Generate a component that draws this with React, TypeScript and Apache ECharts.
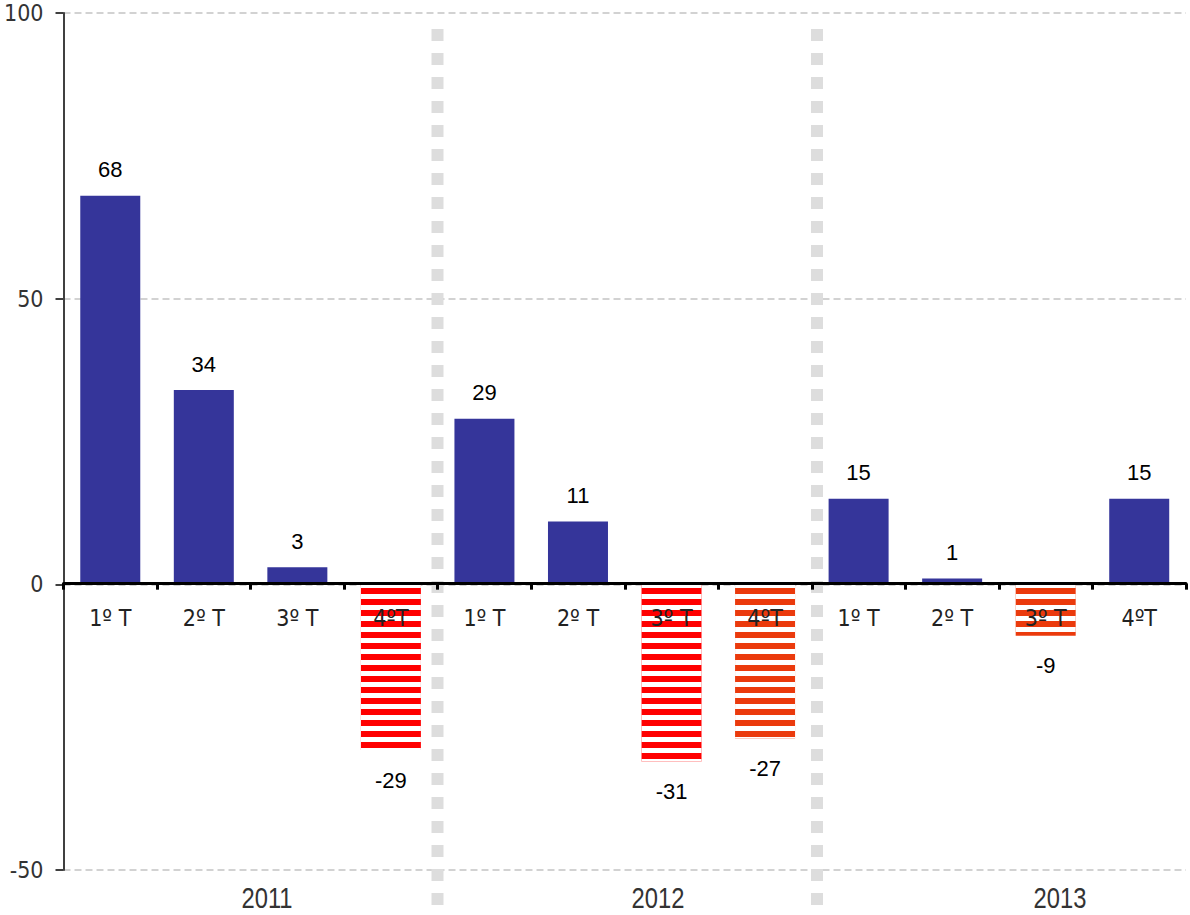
import React, { useEffect, useRef } from "react";
import * as echarts from "echarts";

const categories = ["1º T", "2º T", "3º T", "4ºT", "1º T", "2º T", "3º T", "4ºT", "1º T", "2º T", "3º T", "4ºT"];
const values = [68, 34, 3, -29, 29, 11, -31, -27, 15, 1, -9, 15];
const barKinds = ["pos", "pos", "pos", "red", "pos", "pos", "red", "orange", "pos", "pos", "orange", "pos"];
const years = ["2011", "2012", "2013"];
const yTicks = { min: -50, max: 100, interval: 50 };

const COLORS: Record<string, string> = { pos: "#35359a", red: "#ff0000", orange: "#eb3a0c" };
const NARROW = "'Liberation Sans Narrow', 'Arial Narrow', 'DejaVu Sans Condensed', sans-serif";

export default function App() {
  const ref = useRef<HTMLDivElement>(null);
  useEffect(() => {
    document.body.style.margin = "0";
    const chart = echarts.init(ref.current!, undefined, { renderer: "svg" });
    const stripe = {
      symbol: "rect",
      symbolSize: 1,
      dashArrayX: [10, 0],
      dashArrayY: [5, 6],
      rotation: 0,
      color: "#ffffff",
      backgroundColor: null,
    };
    const data = values.map((v, i) => {
      const kind = barKinds[i];
      const item: any = {
        value: v,
        itemStyle: { color: COLORS[kind] },
        label: { position: v >= 0 ? "top" : "bottom", distance: v >= 0 ? 15 : 19 },
      };
      if (kind !== "pos") item.itemStyle.decal = stripe;
      return item;
    });
    const yearX = [267, 658, 1060];
    const sepX = [437.5, 817];
    const gridTop = 13;
    const gridBottom = 45;
    const H = 915;
    chart.setOption({
      animation: false,
      grid: { left: 63.5, right: 4, top: gridTop, bottom: gridBottom },
      xAxis: {
        type: "category",
        data: categories,
        z: 5,
        offset: 0,
        axisLine: { onZero: false, lineStyle: { color: "#000", width: 3 } },
        axisTick: { show: true, length: 6, lineStyle: { color: "#000", width: 3 } },
        axisLabel: { color: "#222", fontFamily: NARROW, fontSize: 23, margin: 23 },
        splitLine: { show: false },
      },
      yAxis: {
        type: "value",
        min: yTicks.min,
        max: yTicks.max,
        interval: yTicks.interval,
        axisLine: { show: true, lineStyle: { color: "#404040", width: 2 } },
        axisTick: { show: true, length: 8, lineStyle: { color: "#404040", width: 2 } },
        axisLabel: { color: "#333", fontFamily: NARROW, fontSize: 23, margin: 20 },
        splitLine: { show: true, lineStyle: { color: "#c4c4c4", width: 1.5, type: [7, 4] } },
      },
      series: [
        {
          type: "bar",
          data,
          barWidth: 60,
          z: 2,
          label: {
            show: true,
            color: "#000",
            fontFamily: "'Liberation Sans', Arial, sans-serif",
            fontSize: 22,
          },
        },
      ],
      graphic: [
        ...sepX.map((x) => ({
          type: "line",
          z: 1,
          shape: { x1: x, y1: 29, x2: x, y2: 915 },
          style: { stroke: "#dddddd", lineWidth: 12, lineDash: [12, 12] },
        })),
        ...years.map((y, i) => ({
          type: "text",
          x: yearX[i],
          y: 898,
          scaleX: 0.82,
          style: {
            text: y,
            fill: "#333",
            font: `29px 'Liberation Sans', Arial, sans-serif`,
            align: "center",
            verticalAlign: "middle",
          },
        })),
      ],
    });
    const y0 = chart.convertToPixel({ yAxisIndex: 0 }, 0) as number;
    const axisBottom = H - gridBottom;
    chart.setOption({ xAxis: { offset: -(axisBottom - y0) } });
    return () => chart.dispose();
  }, []);
  return <div ref={ref} style={{ width: 1190, height: 915 }} />;
}
